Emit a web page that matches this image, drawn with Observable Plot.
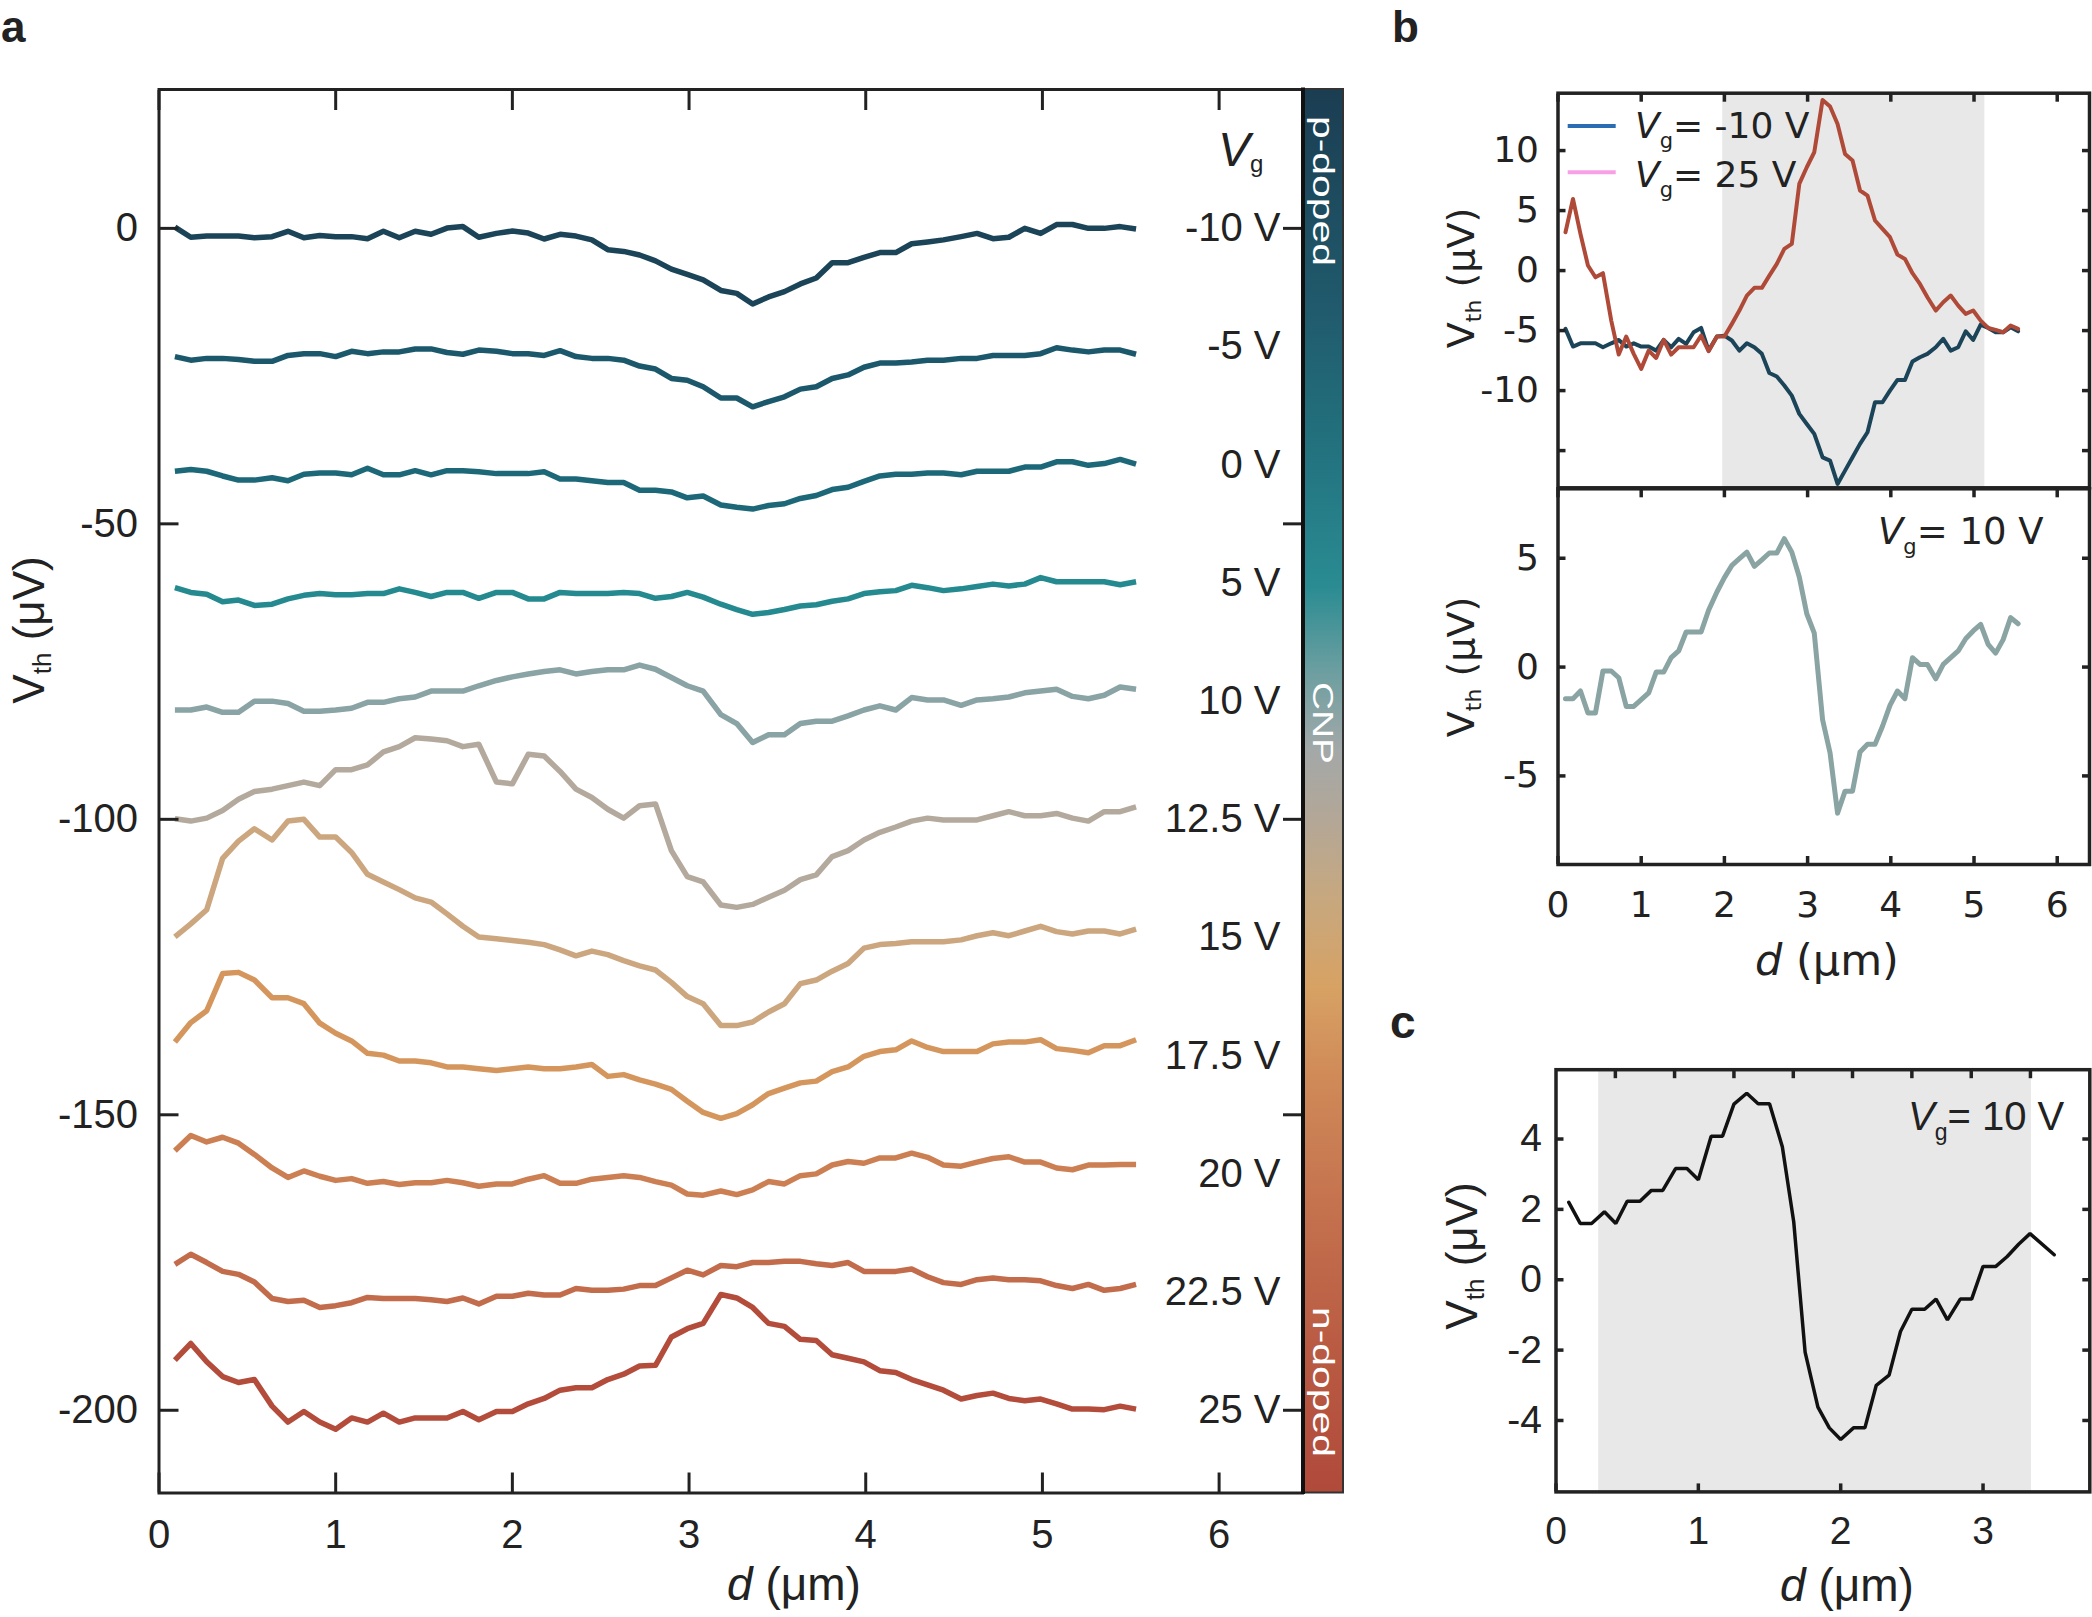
<!DOCTYPE html>
<html>
<head>
<meta charset="utf-8">
<script src="https://cdn.jsdelivr.net/npm/d3@7"></script>
<script src="https://cdn.jsdelivr.net/npm/@observablehq/plot@0.6"></script>
<style>
  html, body { margin: 0; padding: 0; background: #fff; }
  #root { position: relative; width: 2092px; height: 1617px; overflow: hidden; background: #fff; }
</style>
</head>
<body>
<div id="root"></div>
<script>
// ---------------- DATA ----------------
// distance grid (µm) shared by panels a and b
const dist = [0.09,0.18,0.27,0.36,0.45,0.54,0.64,0.73,0.82,0.91,1.00,1.09,1.18,1.27,1.36,1.45,1.54,1.63,1.72,1.81,
  1.91,2.00,2.09,2.18,2.27,2.36,2.45,2.54,2.63,2.72,2.81,2.90,2.99,3.08,3.18,3.27,3.36,3.45,3.54,3.63,
  3.72,3.81,3.90,3.99,4.08,4.17,4.26,4.35,4.44,4.54,4.63,4.72,4.81,4.90,4.99,5.08,5.17,5.26,5.35,5.44,5.53];

// panel a: gate voltages, label positions (offset baselines) and offset traces (µV)
const gates = ["-10 V","-5 V","0 V","5 V","10 V","12.5 V","15 V","17.5 V","20 V","22.5 V","25 V"];
const gateOffsets = [0,-20,-40,-60,-80,-100,-120,-140,-160,-180,-200];
const vNeg10 = [0.2,-1.5,-1.3,-1.3,-1.3,-1.6,-1.4,-0.5,-1.6,-1.2,-1.4,-1.4,-1.75,-0.5,-1.6,-0.5,-1.0,0.05,0.3,-1.5,
  -0.85,-0.45,-0.8,-1.8,-1.0,-1.3,-1.95,-3.6,-3.9,-4.5,-5.5,-6.9,-7.8,-8.7,-10.5,-11.0,-12.8,-11.6,-10.7,-9.4,
  -8.4,-5.8,-5.8,-4.9,-4.1,-4.1,-2.6,-2.3,-1.95,-1.4,-0.85,-1.75,-1.5,0,-0.85,0.65,0.65,0,0,0.3,-0.1];
const vNeg5 = [-21.7,-22.3,-22.0,-22.0,-22.2,-22.5,-22.5,-21.5,-21.2,-21.2,-21.7,-20.8,-21.2,-20.9,-20.9,-20.4,-20.4,-21.0,-21.3,-20.6,
  -20.8,-21.2,-21.2,-21.5,-20.7,-21.7,-22.0,-22.0,-22.3,-23.3,-23.8,-25.4,-25.7,-26.8,-28.7,-28.7,-30.2,-29.3,-28.5,-27.2,
  -26.8,-25.4,-24.8,-23.5,-22.8,-22.8,-22.6,-22.3,-22.3,-22.0,-22.0,-21.5,-21.5,-21.5,-21.2,-20.2,-20.6,-20.9,-20.6,-20.6,-21.3];
const v0 = [-41.1,-40.8,-41.1,-41.9,-42.6,-42.6,-42.2,-42.7,-41.6,-41.4,-41.4,-41.7,-40.6,-41.7,-41.7,-41.0,-41.7,-41.0,-41.0,-41.2,
  -41.5,-41.5,-41.5,-41.2,-42.4,-42.4,-42.7,-43.0,-43.0,-44.3,-44.3,-44.6,-45.6,-45.3,-46.8,-47.2,-47.5,-46.9,-46.6,-45.7,
  -45.2,-44.2,-43.8,-42.8,-41.9,-41.6,-41.6,-41.4,-41.4,-41.7,-41.1,-41.1,-41.1,-40.4,-40.4,-39.5,-39.5,-40.1,-39.8,-39.1,-39.9];
const v5 = [-60.8,-61.6,-61.9,-63.2,-62.9,-63.8,-63.6,-62.7,-62.1,-61.8,-62.0,-62.0,-61.8,-61.8,-61.0,-61.6,-62.3,-61.6,-61.6,-62.6,
  -61.6,-61.6,-62.7,-62.7,-61.6,-61.8,-61.8,-61.8,-61.6,-61.8,-62.6,-62.3,-61.6,-62.4,-63.6,-64.5,-65.3,-65.0,-64.5,-63.9,
  -63.7,-63.1,-62.7,-61.8,-61.5,-61.3,-60.4,-60.8,-61.3,-61.0,-60.6,-60.2,-60.5,-60.2,-59.1,-59.8,-59.8,-59.8,-59.8,-60.3,-59.8];
const v10 = [-81.5,-81.5,-81.0,-81.9,-81.9,-80.0,-80.0,-80.4,-81.7,-81.7,-81.5,-81.2,-80.2,-80.2,-79.6,-79.3,-78.3,-78.3,-78.3,-77.4,
  -76.5,-75.9,-75.4,-75.0,-74.7,-75.4,-75.0,-74.7,-74.7,-73.9,-74.6,-76.0,-77.4,-78.3,-82.3,-83.8,-87.0,-85.7,-85.7,-83.8,
  -83.4,-83.4,-82.5,-81.5,-80.8,-81.5,-79.4,-79.8,-79.8,-80.7,-79.8,-79.6,-79.3,-78.6,-78.3,-78.0,-79.2,-79.6,-79.0,-77.6,-78.0];
const v12_5 = [-99.9,-100.3,-99.8,-98.5,-96.6,-95.3,-94.9,-94.3,-93.7,-94.3,-91.6,-91.6,-90.8,-88.6,-87.7,-86.2,-86.4,-86.7,-87.7,-87.3,
  -93.7,-94.0,-89.0,-89.3,-91.9,-94.9,-96.3,-98.3,-99.8,-97.7,-97.4,-105.3,-109.7,-110.6,-114.5,-114.9,-114.4,-113.2,-112.0,-110.2,
  -109.4,-106.3,-105.3,-103.5,-102.2,-101.3,-100.3,-99.8,-100.1,-100.1,-100.1,-99.4,-98.7,-99.4,-99.4,-99.0,-99.8,-100.3,-98.7,-98.7,-97.9];
const v15 = [-119.9,-117.7,-115.3,-106.6,-103.7,-101.6,-103.5,-100.3,-100.0,-103.0,-103.0,-105.6,-109.3,-110.6,-111.9,-113.3,-114.0,-116.0,-118.1,-119.9,
  -120.2,-120.5,-120.8,-121.2,-122.1,-123.1,-122.3,-122.9,-123.9,-124.8,-125.5,-127.6,-130.0,-131.2,-134.9,-134.9,-134.3,-132.6,-131.2,-127.8,
  -127.2,-125.7,-124.4,-121.8,-121.2,-121.0,-120.7,-120.7,-120.7,-120.4,-119.7,-119.2,-119.7,-118.9,-118.1,-119.0,-119.4,-118.9,-118.9,-119.4,-118.6];
const v17_5 = [-137.7,-134.4,-132.4,-126.1,-125.9,-127.2,-130.2,-130.2,-131.2,-134.5,-136.2,-137.5,-139.6,-139.9,-140.9,-140.9,-141.2,-141.9,-141.9,-142.2,
  -142.5,-142.2,-141.9,-142.2,-142.2,-141.9,-141.5,-143.5,-143.2,-144.1,-144.8,-145.7,-147.7,-149.6,-150.6,-149.8,-148.3,-146.4,-145.5,-144.6,
  -144.3,-142.7,-141.9,-140.1,-139.3,-139.0,-137.5,-138.6,-139.3,-139.3,-139.3,-138.0,-137.7,-137.7,-137.3,-138.8,-139.1,-139.5,-138.3,-138.3,-137.3];
const v20 = [-156.1,-153.5,-154.6,-153.8,-154.8,-156.7,-159.0,-160.6,-159.5,-160.4,-161.1,-160.8,-161.6,-161.3,-161.8,-161.5,-161.5,-161.1,-161.5,-162.1,
  -161.7,-161.7,-160.9,-160.3,-161.6,-161.6,-160.9,-160.6,-160.3,-160.6,-161.3,-161.9,-163.4,-163.6,-162.9,-163.5,-162.7,-161.3,-161.7,-160.3,
  -160.0,-158.5,-157.9,-158.2,-157.3,-157.3,-156.5,-157.2,-158.5,-158.7,-158.0,-157.4,-157.1,-158.0,-158.0,-159.0,-159.3,-158.5,-158.5,-158.4,-158.4];
const v22_5 = [-175.3,-173.6,-175.0,-176.5,-177.0,-178.3,-181.1,-181.6,-181.4,-182.6,-182.3,-181.8,-180.9,-181.1,-181.1,-181.1,-181.3,-181.6,-181.0,-182.0,
  -180.7,-180.7,-180.2,-180.5,-180.5,-179.4,-179.7,-179.7,-179.5,-178.9,-178.9,-177.6,-176.3,-177.1,-175.5,-175.7,-175.0,-175.0,-174.8,-174.8,
  -175.2,-175.5,-175.0,-176.5,-176.5,-176.5,-176.1,-177.4,-178.4,-178.7,-177.9,-177.6,-177.9,-177.9,-178.1,-178.9,-179.4,-178.7,-179.7,-179.4,-178.7];
const v25 = [-191.5,-188.7,-191.8,-194.3,-195.3,-194.8,-199.3,-202.0,-200.2,-202.0,-203.2,-201.3,-202.0,-200.5,-202.0,-201.3,-201.3,-201.3,-200.2,-201.6,
  -200.2,-200.2,-198.9,-198.0,-196.6,-196.2,-196.2,-194.8,-193.9,-192.5,-192.4,-187.6,-186.2,-185.3,-180.4,-181.0,-182.6,-185.3,-185.8,-188.0,
  -188.2,-190.6,-191.2,-191.8,-193.3,-193.6,-194.8,-195.7,-196.6,-198.1,-197.5,-197.1,-198.0,-198.4,-198.1,-198.9,-199.8,-199.8,-199.9,-199.3,-199.8];
const seriesA = [vNeg10, vNeg5, v0, v5, v10, v12_5, v15, v17_5, v20, v22_5, v25];
const xTicksA = [0,1,2,3,4,5,6];
const yTicksA = [0,-50,-100,-150,-200];

// panel b (top): Vg = -10 V and Vg = 25 V
const bNeg10 = [-4.86,-6.33,-6.06,-6.06,-6.06,-6.39,-6.06,-5.78,-6.33,-6.06,-6.33,-6.33,-6.67,-5.78,-6.39,-5.69,-6.11,-5.14,-4.78,-6.67,
  -5.50,-5.42,-5.83,-6.67,-6.06,-6.39,-6.94,-8.53,-8.83,-9.58,-10.42,-11.94,-12.78,-13.61,-15.56,-15.83,-17.78,-16.67,-15.56,-14.44,
  -13.47,-10.97,-10.97,-10.0,-9.11,-9.11,-7.58,-7.22,-6.94,-6.39,-5.69,-6.67,-6.39,-5.06,-5.78,-4.50,-4.78,-5.14,-5.14,-4.72,-5.06];
const b25 = [3.19,5.97,3.06,0.42,-0.56,-0.22,-4.17,-7.0,-5.5,-6.94,-8.19,-6.67,-7.28,-5.78,-7.0,-6.39,-6.39,-6.39,-5.42,-6.72,
  -5.5,-5.5,-4.44,-3.33,-2.08,-1.44,-1.44,-0.42,0.56,1.81,2.22,7.22,8.61,9.86,14.22,13.67,12.22,9.72,9.17,6.67,
  6.25,4.17,3.47,2.78,1.33,0.97,-0.22,-1.11,-2.22,-3.33,-2.64,-2.08,-2.92,-3.61,-3.33,-4.17,-4.78,-4.94,-5.14,-4.58,-4.86];
// panel b (bottom): Vg = 10 V
const b10 = [-1.45,-1.45,-1.10,-2.11,-2.11,-0.18,-0.18,-0.49,-1.81,-1.81,-1.50,-1.19,-0.23,-0.23,0.43,0.74,1.61,1.61,1.61,2.61,
  3.45,4.11,4.67,4.98,5.28,4.63,4.93,5.24,5.24,5.90,5.28,4.14,2.45,1.56,-2.42,-3.95,-6.71,-5.70,-5.70,-3.90,
  -3.55,-3.55,-2.72,-1.76,-1.10,-1.45,0.43,0.12,0.12,-0.54,0.12,0.43,0.74,1.30,1.66,1.96,1.04,0.64,1.26,2.27,1.99];
const shadeB = [1.98, 5.13];
const xTicksB = [0,1,2,3,4,5,6];
const yTicksBTop = [-15,-10,-5,0,5,10];
const yLabelsBTop = [-10,-5,0,5,10];
const yTicksBBot = [-5,0,5];
const legendB = ["= -10 V", "= 25 V"];

// panel c: Vg = 10 V
const distC = [0.09,0.17,0.25,0.34,0.42,0.50,0.59,0.67,0.75,0.84,0.92,1.00,1.09,1.17,1.25,1.34,1.42,1.50,1.59,1.67,
  1.75,1.84,1.92,2.00,2.09,2.17,2.25,2.34,2.42,2.50,2.59,2.67,2.75,2.84,2.92,3.00,3.09,3.17,3.25,3.33,3.50];
const vC = [2.20,1.60,1.60,1.93,1.60,2.23,2.23,2.54,2.54,3.16,3.16,2.84,4.08,4.08,4.99,5.30,5.00,5.00,3.78,1.65,
  -2.06,-3.62,-4.21,-4.54,-4.21,-4.21,-3.00,-2.71,-1.47,-0.84,-0.84,-0.55,-1.14,-0.55,-0.55,0.38,0.38,0.66,1.01,1.31,0.71];
const shadeC = [0.30, 3.34];
const xTicksC = [0,1,2,3];
const xTopTicksC = [0.417,0.833,1.25,1.667,2.083,2.5,2.917,3.333];
const yTicksC = [-4,-2,0,2,4];

// ---------------- STYLE ----------------
const gateColors = ["#1b4458","#1c586c","#1d6878","#248a90","#8aa3a4","#b4a99d","#cca67f","#d5965d","#cc7f52","#c26c4b","#b34c3b"];
const colNeg10 = "#1c4458", col25 = "#b04a38", col10 = "#8aa3a3";
const legendColors = ["#2a6db3", "#f8a0e6"];
const ink = "#222";
const fontA = "'Liberation Sans', Arial, Helvetica, sans-serif";
const fontB = "'DejaVu Sans', Verdana, sans-serif";
const fmt = v => String(v);
const blank = () => "";

const root = document.getElementById("root");
function place(svg, left, top) {
  svg.style.position = "absolute";
  svg.style.left = left + "px";
  svg.style.top = top + "px";
  root.appendChild(svg);
}
function baseStyle(family, size) {
  return {fontFamily: family, fontSize: size + "px", color: ink, background: "transparent", overflow: "visible"};
}
function tickAxes(xT, yT, len, sw, opts = {}) {
  const o = {strokeWidth: sw, tickFormat: blank, label: null};
  const marks = [];
  if (opts.bottom !== false) marks.push(Plot.axisX(opts.xBottom || xT, {...o, anchor: "bottom", tickSize: -len}));
  if (opts.top !== false) marks.push(Plot.axisX(opts.xTop || xT, {...o, anchor: "top", tickSize: -len}));
  marks.push(Plot.axisY(yT, {...o, anchor: "left", tickSize: -len}));
  marks.push(Plot.axisY(yT, {...o, anchor: "right", tickSize: -len}));
  return marks;
}

// ---------------- PANEL A ----------------
const rowsA = gates.flatMap((g, k) => dist.map((x, i) => ({g, x, v: seriesA[k][i]})));
const labelsA = gates.map((g, k) => ({g, v: gateOffsets[k]}));
const plotA = Plot.plot({
  width: 1352, height: 1617,
  marginLeft: 158.5, marginRight: 50, marginTop: 89, marginBottom: 124.5,
  style: baseStyle(fontA, 40),
  x: {domain: [0, 6.472]},
  y: {domain: [-214, 23.5]},
  color: {type: "ordinal", domain: gates, range: gateColors},
  marks: [
    Plot.line(rowsA, {x: "x", y: "v", z: "g", stroke: "g", strokeWidth: 5.5, strokeLinejoin: "round", strokeLinecap: "butt"}),
    Plot.text(labelsA, {y: "v", text: "g", frameAnchor: "right", textAnchor: "end", dx: -22, fontSize: 40, fill: ink}),
    Plot.frame({stroke: ink, strokeWidth: 3}),
    Plot.axisY(yTicksA, {anchor: "left", tickSize: 0, tickPadding: 21, tickFormat: fmt, fontSize: 40, label: null}),
    Plot.axisX(xTicksA, {anchor: "bottom", tickSize: 0, tickPadding: 27, tickFormat: fmt, fontSize: 40, label: null}),
    ...tickAxes(xTicksA, yTicksA, 20, 3)
  ]
});
place(plotA, 0, 0);

// ---------------- PANEL B (top) ----------------
const plotBTop = Plot.plot({
  width: 692, height: 530,
  marginLeft: 157.5, marginRight: 3, marginTop: 92.7, marginBottom: 42.7,
  style: baseStyle(fontB, 36),
  x: {domain: [0, 6.388]},
  y: {domain: [-18.1, 14.78]},
  marks: [
    Plot.rect([shadeB], {x1: s => s[0], x2: s => s[1], fill: "#e8e8e8"}),
    Plot.line(bNeg10, {x: (v, i) => dist[i], y: v => v, stroke: colNeg10, strokeWidth: 4, strokeLinejoin: "round"}),
    Plot.line(b25, {x: (v, i) => dist[i], y: v => v, stroke: col25, strokeWidth: 4, strokeLinejoin: "round"}),
    Plot.frame({stroke: ink, strokeWidth: 3.5}),
    Plot.axisY(yLabelsBTop, {anchor: "left", tickSize: 0, tickPadding: 19, tickFormat: fmt, fontSize: 36, label: null}),
    ...tickAxes(xTicksB, yTicksBTop, 8, 3.5, {bottom: false})
  ]
});
place(plotBTop, 1400, 0);

// ---------------- PANEL B (bottom) ----------------
const plotBBot = Plot.plot({
  width: 692, height: 560,
  marginLeft: 157.5, marginRight: 3, marginTop: 48.3, marginBottom: 136,
  style: baseStyle(fontB, 36),
  x: {domain: [0, 6.388]},
  y: {domain: [-9.07, 8.19]},
  marks: [
    Plot.line(b10, {x: (v, i) => dist[i], y: v => v, stroke: col10, strokeWidth: 5, strokeLinejoin: "round"}),
    Plot.frame({stroke: ink, strokeWidth: 3.5}),
    Plot.axisY(yTicksBBot, {anchor: "left", tickSize: 0, tickPadding: 19, tickFormat: fmt, fontSize: 36, label: null}),
    Plot.axisX(xTicksB, {anchor: "bottom", tickSize: 0, tickPadding: 27, tickFormat: fmt, fontSize: 36, label: null}),
    ...tickAxes(xTicksB, yTicksBBot, 8, 3.5)
  ]
});
place(plotBBot, 1400, 440);

// ---------------- PANEL C ----------------
const plotC = Plot.plot({
  width: 692, height: 577,
  marginLeft: 155.5, marginRight: 2.7, marginTop: 29.2, marginBottom: 125.6,
  style: baseStyle(fontA, 39),
  x: {domain: [0, 3.75]},
  y: {domain: [-6.03, 5.97]},
  marks: [
    Plot.rect([shadeC], {x1: s => s[0], x2: s => s[1], fill: "#e8e8e8"}),
    Plot.line(vC, {x: (v, i) => distC[i], y: v => v, stroke: "#111", strokeWidth: 3.5, strokeLinejoin: "miter"}),
    Plot.frame({stroke: ink, strokeWidth: 3.5}),
    Plot.axisY(yTicksC, {anchor: "left", tickSize: 0, tickPadding: 14, tickFormat: fmt, fontSize: 39, label: null}),
    Plot.axisX(xTicksC, {anchor: "bottom", tickSize: 0, tickPadding: 24, tickFormat: fmt, fontSize: 39, label: null}),
    ...tickAxes(xTicksC, yTicksC, 8, 3.5, {xTop: xTopTicksC})
  ]
});
place(plotC, 1400, 1040);

// ---------------- OVERLAY: colorbar, labels, legend ----------------
const ov = d3.select(root).append("svg")
  .attr("width", 2092).attr("height", 1617)
  .style("position", "absolute").style("left", "0px").style("top", "0px")
  .style("pointer-events", "none");

const cbStops = [[0,"#1b3d52"],[0.155,"#205a6c"],[0.264,"#237480"],[0.355,"#2a8c92"],[0.413,"#6a9ea0"],[0.471,"#a3a8a8"],
  [0.523,"#b4a796"],[0.574,"#c6a880"],[0.639,"#d7a264"],[0.703,"#d08a58"],[0.80,"#c4714e"],[0.897,"#b95b43"],[1,"#b04a3b"]];
const grad = ov.append("defs").append("linearGradient").attr("id", "cb").attr("x1", 0).attr("y1", 0).attr("x2", 0).attr("y2", 1);
cbStops.forEach(([o, c]) => grad.append("stop").attr("offset", o).attr("stop-color", c));
ov.append("rect").attr("x", 1303).attr("y", 89).attr("width", 40).attr("height", 1403.5)
  .attr("fill", "url(#cb)").attr("stroke", "#333").attr("stroke-width", 2);
ov.append("line").attr("x1", 1303).attr("x2", 1303).attr("y1", 87.5).attr("y2", 1494)
  .attr("stroke", "#111").attr("stroke-width", 4);
[["p-doped", 191, 150], ["CNP", 723, 82], ["n-doped", 1382, 150]].forEach(([t, yc, len]) => {
  ov.append("text").attr("x", 1323).attr("y", yc)
    .attr("transform", `rotate(90,1323,${yc})`)
    .attr("text-anchor", "middle").attr("dominant-baseline", "central")
    .attr("font-family", fontA).attr("font-size", 30).attr("fill", "#fff")
    .attr("textLength", len).attr("lengthAdjust", "spacingAndGlyphs")
    .text(t);
});

function rich(x, y, parts, {size, family, anchor = "start", rotate = 0, fill = ink, weight = null}) {
  const t = ov.append("text").attr("x", x).attr("y", y)
    .attr("font-size", size).attr("font-family", family)
    .attr("text-anchor", anchor).attr("fill", fill);
  if (weight) t.attr("font-weight", weight);
  if (rotate) t.attr("transform", `rotate(${rotate},${x},${y})`);
  parts.forEach(p => {
    const s = t.append("tspan").text(p.t);
    if (p.i) s.attr("font-style", "italic");
    if (p.s) s.attr("font-size", p.s);
    if (p.dy) s.attr("dy", p.dy);
  });
  return t;
}

// panel letters
rich(1, 42, [{t: "a"}], {size: 44, family: fontA, weight: "bold"});
rich(1392, 42, [{t: "b"}], {size: 44, family: fontA, weight: "bold"});
rich(1390, 1038, [{t: "c"}], {size: 46, family: fontA, weight: "bold"});

// panel a labels
rich(44, 630, [{t: "V"}, {t: "th", s: 26, dy: 7}, {t: " (μV)", dy: -7}], {size: 44, family: fontA, anchor: "middle", rotate: -90});
rich(794, 1600, [{t: "d", i: 1}, {t: " (μm)"}], {size: 46, family: fontA, anchor: "middle"});
rich(1218, 166, [{t: "V", i: 1}, {t: "g", s: 24, dy: 6}], {size: 48, family: fontA});

// panel b labels
rich(1474, 278, [{t: "V"}, {t: "th", s: 22, dy: 7}, {t: " (μV)", dy: -7}], {size: 38, family: fontB, anchor: "middle", rotate: -90});
rich(1474, 667, [{t: "V"}, {t: "th", s: 22, dy: 7}, {t: " (μV)", dy: -7}], {size: 38, family: fontB, anchor: "middle", rotate: -90});
rich(1827, 975, [{t: "d", i: 1}, {t: " (μm)"}], {size: 43, family: fontB, anchor: "middle"});
legendB.forEach((lab, k) => {
  const y = [126, 172.3][k];
  ov.append("line").attr("x1", 1567.7).attr("x2", 1615.7).attr("y1", y).attr("y2", y)
    .attr("stroke", legendColors[k]).attr("stroke-width", 4);
  rich(1635, y + 12.3 + (k ? 2 : 0), [{t: "V", i: 1}, {t: "g", s: 21, dy: 10}, {t: lab, dy: -10}], {size: 36, family: fontB});
});
rich(1878, 544, [{t: "V", i: 1}, {t: "g", s: 21, dy: 10}, {t: "= 10 V", dy: -10}], {size: 37, family: fontB});

// panel c labels
rich(1477, 1256, [{t: "V"}, {t: "th", s: 26, dy: 7}, {t: " (μV)", dy: -7}], {size: 44, family: fontA, anchor: "middle", rotate: -90});
rich(1847, 1601, [{t: "d", i: 1}, {t: " (μm)"}], {size: 46, family: fontA, anchor: "middle"});
rich(1908, 1129.6, [{t: "V", i: 1}, {t: "g", s: 23, dy: 10}, {t: "= 10 V", dy: -10}], {size: 40, family: fontA});
</script>
</body>
</html>
